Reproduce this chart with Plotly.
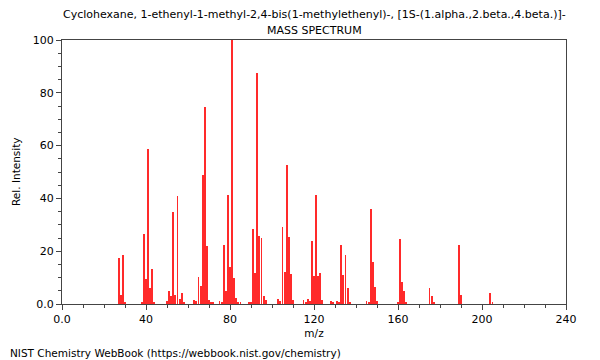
import plotly.graph_objects as go

mz = [27, 28, 29, 30, 38, 39, 40, 41, 42, 43, 44, 50, 51, 52, 53, 54, 55, 56, 57, 58,
      63, 64, 65, 66, 67, 68, 69, 70, 71, 72, 75, 76, 77, 78, 79, 80, 81, 82, 83, 84, 85,
      89, 90, 91, 92, 93, 94, 95, 96, 97, 103, 104, 105, 106, 107, 108, 109, 110,
      115, 116, 117, 118, 119, 120, 121, 122, 123, 124, 128, 129, 131, 132, 133, 134, 135,
      136, 137, 145, 146, 147, 148, 149, 150, 160, 161, 162, 163, 164, 175, 176, 177,
      189, 190, 204, 205]
intensity = [17.5, 3.4, 18.6, 0.6, 0.6, 26.4, 9.6, 58.6, 5.9, 13.3, 0.6, 1.3, 4.9, 3.0, 35.0, 3.3, 40.9, 2.0, 4.0, 0.8,
             1.5, 1.1, 10.1, 6.8, 48.9, 74.6, 22.0, 1.5, 0.8, 0.8, 1.1, 0.8, 22.3, 4.9, 41.3, 14.1, 100.0, 10.0, 2.4, 0.8, 0.8,
             0.6, 0.6, 28.4, 11.6, 87.4, 25.8, 25.0, 3.2, 1.5, 1.9, 1.1, 29.3, 12.2, 52.5, 25.4, 11.2, 1.5,
             1.4, 0.8, 2.0, 1.3, 23.7, 10.6, 41.4, 10.7, 11.7, 1.4, 1.0, 0.8, 1.1, 0.9, 22.3, 10.9, 18.6,
             6.1, 0.6, 1.1, 0.6, 36.0, 15.9, 6.6, 1.1, 0.6, 24.5, 8.2, 4.9, 0.8, 6.1, 2.9, 0.6,
             22.5, 3.5, 4.0, 0.8]

x_ticks = [0, 40, 80, 120, 160, 200, 240]
x_ticktext = ["0.0", "40", "80", "120", "160", "200", "240"]
y_ticks = [0, 20, 40, 60, 80, 100]
y_ticktext = ["0.0", "20", "40", "60", "80", "100"]

title_line1 = "Cyclohexane, 1-ethenyl-1-methyl-2,4-bis(1-methylethenyl)-, [1S-(1.alpha.,2.beta.,4.beta.)]-"
title_line2 = "MASS SPECTRUM"
source = "NIST Chemistry WebBook (https://webbook.nist.gov/chemistry)"

FONT = "DejaVu Sans"
AX = "#444444"

fig = go.Figure()
fig.add_trace(go.Bar(x=mz, y=intensity, width=0.4,
                     marker=dict(color="#ff2a2a", line=dict(width=0))))

axis_common = dict(showline=True, linecolor=AX, linewidth=1, mirror=True,
                   ticks="outside", ticklen=5, tickcolor=AX, showgrid=False,
                   zeroline=False, tickfont=dict(family=FONT, size=11, color="#000"))

# page body adds an 8px offset; figure is sized so that the plot area
# lands at x 62..566, y 40..304 of the 600x360 window
fig.update_layout(
    width=592, height=352,
    margin=dict(l=54, r=34, t=32, b=56),
    plot_bgcolor="white", paper_bgcolor="white",
    showlegend=False, bargap=0,
    font=dict(family=FONT, size=10.5, color="#000"),
    xaxis=dict(range=[0, 240], tickmode="array", tickvals=x_ticks, ticktext=x_ticktext,
               minor=dict(tickmode="linear", tick0=0, dtick=10, ticks="outside", ticklen=3,
                          tickcolor=AX),
               title=dict(text="m/z", font=dict(family=FONT, size=10.5), standoff=4),
               **axis_common),
    yaxis=dict(range=[0, 100], tickmode="array", tickvals=y_ticks, ticktext=y_ticktext,
               minor=dict(tickmode="linear", tick0=0, dtick=5, ticks="outside", ticklen=3,
                          tickcolor=AX),
               **axis_common),
    annotations=[
        dict(text=title_line1, xref="paper", yref="paper", x=0.5, y=1,
             yshift=26, xanchor="center", yanchor="middle", showarrow=False,
             font=dict(family=FONT, size=11)),
        dict(text=title_line2, xref="paper", yref="paper", x=0.5, y=1,
             yshift=10, xanchor="center", yanchor="middle", showarrow=False,
             font=dict(family=FONT, size=11)),
        dict(text="Rel. Intensity", xref="paper", yref="paper", x=-54/504, y=0.5,
             xanchor="left", yanchor="middle", textangle=-90, showarrow=False,
             font=dict(family=FONT, size=10.5)),
        dict(text=source, xref="paper", yref="paper", x=-54/504, y=0,
             yshift=-49, xanchor="left", yanchor="middle", showarrow=False,
             font=dict(family=FONT, size=10.5)),
    ],
)

fig.write_html("out.html")
